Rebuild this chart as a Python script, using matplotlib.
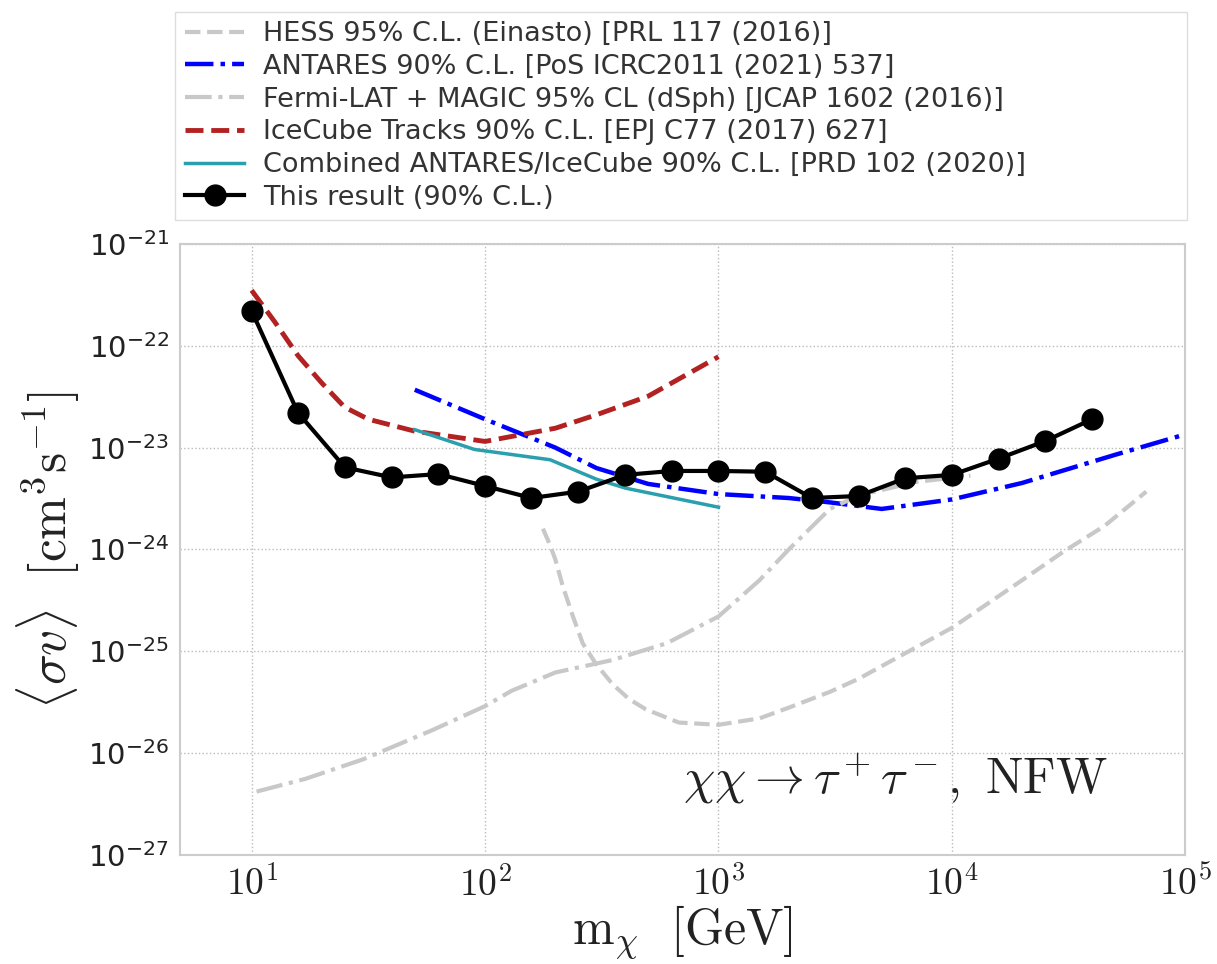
import matplotlib
matplotlib.use("Agg")
import matplotlib.pyplot as plt

plt.rcParams['mathtext.fontset'] = 'cm'
plt.rcParams['font.family'] = 'DejaVu Sans'

# HESS 95% C.L. (Einasto)
hess_m = [177, 190, 200, 215, 238, 262, 299, 352, 414, 488, 676, 1000, 1500, 2000, 3000, 4000, 6000, 10000, 20000, 30000, 45000, 68000]
hess_sv = [1.6e-24, 1.1e-24, 8e-25, 4.4e-25, 2.2e-25, 1.2e-25, 7.5e-26, 4.75e-26, 3.4e-26, 2.7e-26, 2.0e-26, 1.9e-26, 2.2e-26, 2.8e-26, 4e-26, 5.4e-26, 9e-26, 1.7e-25, 5e-25, 9.5e-25, 1.7e-24, 3.7e-24]

# ANTARES 90% C.L.
antares_m = [50, 100, 200, 300, 500, 1000, 2000, 3000, 5000, 10000, 20000, 50000, 100000]
antares_sv = [3.7e-23, 1.9e-23, 1.0e-23, 6.3e-24, 4.4e-24, 3.5e-24, 3.2e-24, 2.9e-24, 2.5e-24, 3.1e-24, 4.5e-24, 8.5e-24, 1.35e-23]

# Fermi-LAT + MAGIC dSph
fermi_m = [10.5, 17, 30, 60, 100, 130, 200, 350, 600, 1000, 1500, 2000, 3000, 4000, 7000, 12000]
fermi_sv = [4.2e-27, 5.6e-27, 8.7e-27, 1.7e-26, 2.9e-26, 4.1e-26, 6.2e-26, 8.2e-26, 1.2e-25, 2.2e-25, 5e-25, 1e-24, 2.5e-24, 3.4e-24, 4.6e-24, 5.3e-24]

# IceCube tracks
icecube_m = [10, 12.6, 15.8, 20, 25, 31.6, 50, 100, 200, 300, 500, 1000]
icecube_sv = [3.5e-22, 1.7e-22, 8e-23, 4.3e-23, 2.5e-23, 1.9e-23, 1.45e-23, 1.15e-23, 1.55e-23, 2.1e-23, 3.2e-23, 7.8e-23]

# combined ANTARES/IceCube
comb_m = [50, 90, 190, 300, 400, 1000]
comb_sv = [1.5e-23, 9.6e-24, 7.6e-24, 4.9e-24, 4.0e-24, 2.6e-24]

# this result
res_m = [10, 15.8, 25.1, 39.8, 63.1, 100, 158, 251, 398, 631, 1000, 1585, 2512, 3981, 6310, 10000, 15849, 25119, 39811]
res_sv = [2.2e-22, 2.2e-23, 6.4e-24, 5.1e-24, 5.5e-24, 4.2e-24, 3.2e-24, 3.7e-24, 5.4e-24, 5.9e-24, 5.9e-24, 5.8e-24, 3.2e-24, 3.35e-24, 5.0e-24, 5.4e-24, 7.8e-24, 1.16e-23, 1.9e-23]

fig = plt.figure(figsize=(12.17, 9.64), dpi=100)
ax = fig.add_axes([0.148, 0.113, 0.826, 0.634])

ax.plot(hess_m, hess_sv, color='#c8c8c8', ls='--', lw=3, label='HESS 95% C.L. (Einasto) [PRL 117 (2016)]')
ax.plot(antares_m, antares_sv, color='blue', ls='-.', lw=3.2, label='ANTARES 90% C.L. [PoS ICRC2011 (2021) 537]')
ax.plot(fermi_m, fermi_sv, color='#c8c8c8', ls='-.', lw=3, label='Fermi-LAT + MAGIC 95% CL (dSph) [JCAP 1602 (2016)]')
ax.plot(icecube_m, icecube_sv, color='firebrick', ls='--', lw=3.5, label='IceCube Tracks 90% C.L. [EPJ C77 (2017) 627]')
ax.plot(comb_m, comb_sv, color='#2a9fad', ls='-', lw=2.5, label='Combined ANTARES/IceCube 90% C.L. [PRD 102 (2020)]')
ax.plot(res_m, res_sv, color='black', marker='o', ms=15, lw=3, label='This result (90% C.L.)')

ax.set_xscale('log')
ax.set_yscale('log')
ax.set_xlim(4.94, 1e5)
ax.set_ylim(1e-27, 1e-21)

ax.set_xticks([10, 100, 1e3, 1e4, 1e5])
ax.set_xticklabels([r'$10^{1}$', r'$10^{2}$', r'$10^{3}$', r'$10^{4}$', r'$10^{5}$'])
ax.minorticks_off()
ax.tick_params(axis='x', labelsize=27, length=0, pad=8, colors='#222222')
ax.tick_params(axis='y', labelsize=21, length=0, pad=8, colors='#222222')

ax.grid(True, ls=':', color='#bbbbbb', lw=1)
for s in ax.spines.values():
    s.set_color('#cccccc')
    s.set_linewidth(1.5)

ax.set_xlabel(r'$\mathrm{m}_{\chi}\ \ [\mathrm{GeV}]$', fontsize=36, color='#222222', labelpad=0)
ax.set_ylabel(r'$\langle\sigma v\rangle\ \ [\mathrm{cm}^3\mathrm{s}^{-1}]$', fontsize=37, color='#222222')

ax.text(0.923, 0.125, r'$\chi\chi \rightarrow \tau^+\tau^-,\ \mathrm{NFW}$', transform=ax.transAxes,
        fontsize=36, ha='right', va='center', color='#222222')

fig.legend(loc='upper left', bbox_to_anchor=(0.144, 0.988, 0.831, 0.0), mode='expand',
           borderaxespad=0, fontsize=19.5, handlelength=2.2, handletextpad=0.7, labelspacing=0.25,
           fancybox=False, framealpha=1, edgecolor='#dddddd', borderpad=0.35,
           labelcolor='#333333')

fig.savefig('out.png', dpi=100)
